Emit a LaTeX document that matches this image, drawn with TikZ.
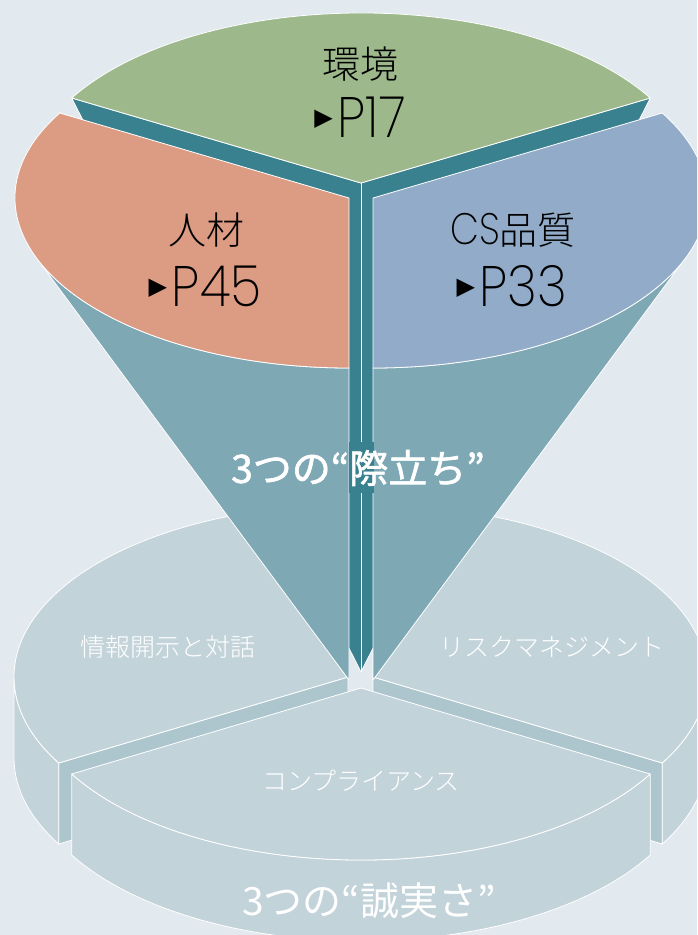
\documentclass[tikz,border=0pt]{standalone}
\usepackage{fontspec}
\usepackage{graphicx}
\newfontfamily\jp{Noto Sans CJK JP}
\newfontfamily\jpl{Noto Sans CJK JP}[UprightFont=* Light]
\newfontfamily\jpm{Noto Sans CJK JP}[FakeBold=1.6]
\newfontfamily\dv{DejaVu Sans}
\newfontfamily\thin{Poppins}[UprightFont=* ExtraLight]
\definecolor{bgc}{HTML}{E2E9EF}
\definecolor{greentop}{HTML}{9DB98C}
\definecolor{pinktop}{HTML}{DC9C84}
\definecolor{bluetop}{HTML}{91ABC8}
\definecolor{darkteal}{HTML}{3A818F}
\definecolor{conec}{HTML}{7FA8B5}
\definecolor{lowtop}{HTML}{C3D3DA}
\definecolor{lowface}{HTML}{ADC5CD}
\begin{document}
\begin{tikzpicture}[x=1pt,y=1pt,
  edge/.style={draw=white, line width=0.8pt, line join=round},
  toplabel/.style={text=black, inner sep=0pt, font=\jpl\fontsize{38}{38}\selectfont},
  pagelabel/.style={text=black, inner sep=0pt, font=\thin\fontsize{57}{57}\selectfont},
  lowlabel/.style={text=white, inner sep=0pt, font=\jpl\fontsize{25}{25}\selectfont},
  biglabel/.style={text=white, inner sep=0pt, font=\jp\fontsize{39}{39}\selectfont}]
\newcommand\tri{{\dv\fontsize{24}{24}\selectfont\raisebox{11.5pt}{▶}}\kern5pt}
\newcommand\pg[1]{\tri\scalebox{0.9}[1]{#1}}
\useasboundingbox (0,0) rectangle (697,-935);
\clip (0,0) rectangle (697,-935);
\fill[bgc] (0,0) rectangle (697,-935);

% ---------- lower pie ----------
% left sector
\path[edge, fill=lowface] (348,-677) -- (58.75,-763) -- (58.75,-844) -- (348,-758) -- cycle;
\path[edge, fill=lowtop] (14,-677) arc[start angle=180, end angle=210, x radius=334pt, y radius=172pt]
  -- ++(0,-81) arc[start angle=210, end angle=180, x radius=334pt, y radius=172pt] -- cycle;
\path[edge, fill=lowtop] (348,-677) -- (348,-505) arc[start angle=90, end angle=210, x radius=334pt, y radius=172pt] -- cycle;
% right sector
\path[edge, fill=lowface] (373,-677) -- (662.25,-763) -- (662.25,-844) -- (373,-758) -- cycle;
\path[edge, fill=lowtop] (662.25,-763) arc[start angle=330, end angle=360, x radius=334pt, y radius=172pt]
  -- ++(0,-81) arc[start angle=360, end angle=330, x radius=334pt, y radius=172pt] -- cycle;
\path[edge, fill=lowtop] (373,-677) -- (662.25,-763) arc[start angle=-30, end angle=90, x radius=334pt, y radius=172pt] -- cycle;
% front sector
\path[edge, fill=lowtop] (71.75,-774) arc[start angle=210, end angle=330, x radius=334pt, y radius=172pt]
  -- ++(0,-81) arc[start angle=330, end angle=210, x radius=334pt, y radius=172pt] -- cycle;
\path[edge, fill=lowtop] (361,-688) -- (71.75,-774) arc[start angle=210, end angle=330, x radius=334pt, y radius=172pt] -- cycle;

% ---------- upper funnel ----------
\path[edge, fill=darkteal] (71.75,-98) -- (361,-183) -- (650.25,-98) -- (361,-672) -- cycle;
\draw[edge] (361,-183) -- (361,-672);
\path[edge, fill=conec] (36.5,-258) -- (349,-680) -- (349,-368)
  arc[start angle=270, end angle=200.65, x radius=334pt, y radius=170pt] -- cycle;
\path[edge, fill=conec] (685.5,-258) -- (373,-680) -- (373,-368)
  arc[start angle=270, end angle=339.35, x radius=334pt, y radius=170pt] -- cycle;
\path[edge, fill=greentop] (361,-183) -- (71.75,-98)
  arc[start angle=150, end angle=30, x radius=334pt, y radius=170pt] -- cycle;
\path[edge, fill=pinktop] (349,-198) -- (59.75,-113)
  arc[start angle=150, end angle=270, x radius=334pt, y radius=170pt] -- cycle;
\path[edge, fill=bluetop] (373,-198) -- (373,-368)
  arc[start angle=270, end angle=390, x radius=334pt, y radius=170pt] -- cycle;
\fill[darkteal] (348.5,-442) rectangle (373.5,-493);

% ---------- labels ----------
\node[toplabel] (kankyo) at (360,-64) {環境};
\node[pagelabel] (p17) at (360,-117) {\pg{P17}};
\node[toplabel] (jinzai) at (206,-230) {人材};
\node[pagelabel] (p45) at (205,-286) {\pg{P45}};
\node[toplabel] (cs) at (513,-230) {{\thin\fontsize{44}{44}\selectfont\scalebox{0.85}[1]{CS}}品質};
\node[pagelabel] (p33) at (512,-286) {\pg{P33}};
\node[biglabel, font=\jpm\fontsize{39}{39}\selectfont] (kiwadachi) at (358,-468) {3つの“際立ち”};
\node[lowlabel] (joho) at (168,-647) {情報開示と対話};
\node[lowlabel] (risk) at (552,-647) {リスクマネジメント};
\node[lowlabel] (comp) at (361,-781) {コンプライアンス};
\node[biglabel] (seijitsu) at (369,-901) {3つの“誠実さ”};
\end{tikzpicture}
\end{document}
